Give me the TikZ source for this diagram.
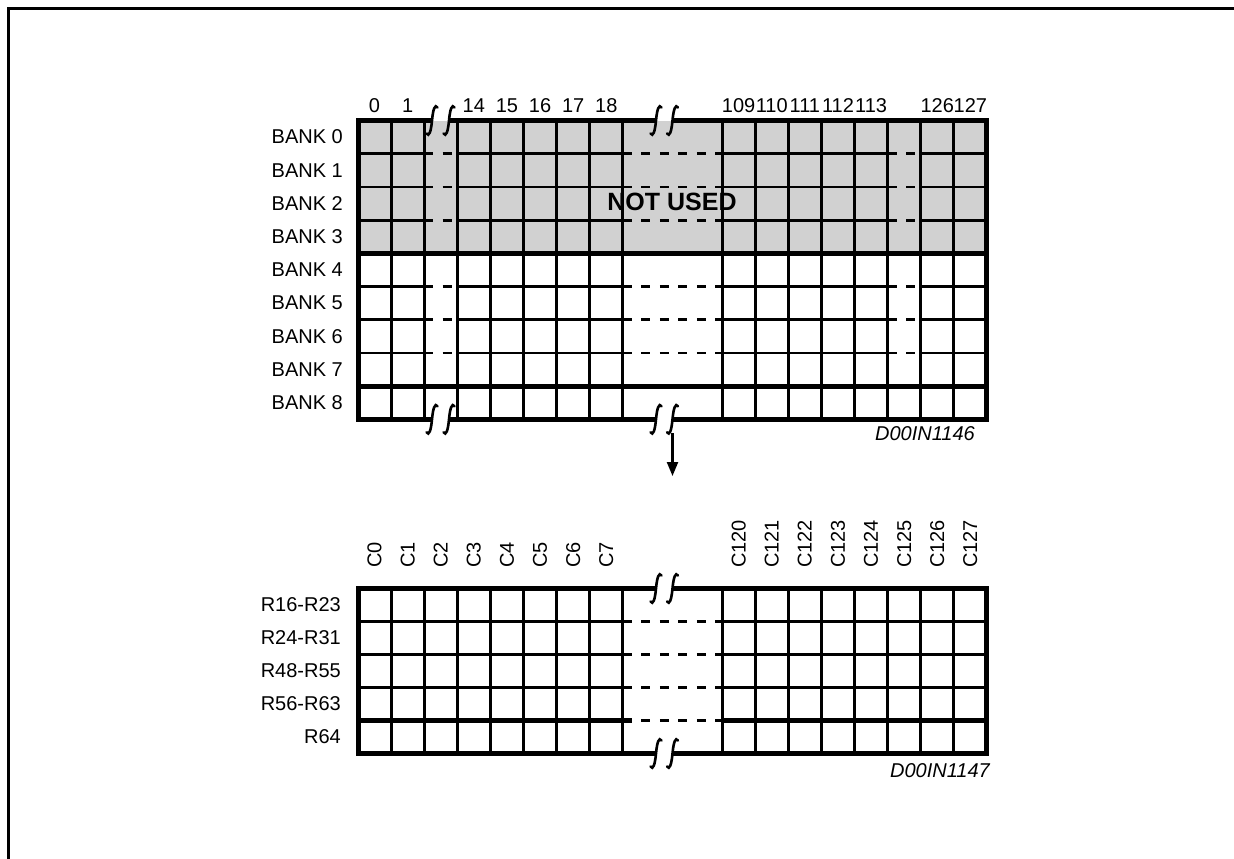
\documentclass[tikz,border=0pt]{standalone}
\usepackage{fontspec}
\setmainfont{Liberation Sans}
\usetikzlibrary{arrows.meta}
\tikzset{
  gl/.style={line width=2.8pt},
  thk/.style={line width=4.8pt},
  bord/.style={line width=5pt, line join=miter},
  dl/.style={line width=2.8pt, dash pattern=on 9pt off 9.5pt},
  lbl/.style={font=\fontsize{20}{24}\selectfont, inner sep=0pt},
  idl/.style={font=\fontsize{20}{24}\selectfont\itshape, inner sep=0pt, anchor=base east},
  shade/.style={fill=black!18},
  brk/.pic={\draw[line width=2.6pt, line cap=round] (-5.5,13) .. controls (-3,17) and (-1,11) .. (0,0) .. controls (1,-11) and (3,-17) .. (5.5,-13);}
}
\begin{document}
\begin{tikzpicture}[x=1pt,y=-1pt]
\useasboundingbox (0,0) rectangle (1234,859);
% frame
\draw[line width=2.6pt] (8.3,859) -- (8.3,8.3) -- (1234,8.3);

% ---------------- top grid ----------------
\def\L{358}\def\W{33.1}\def\T{120.5}\def\H{33.2}
\fill[shade] (\L,\T) rectangle ({\L+19*\W},{\T+4*\H});
% verticals
\foreach \u in {1,...,8,11,12,...,18}
  \draw[gl] ({\L+\u*\W},\T) -- ({\L+\u*\W},{\T+9*\H});
% thin row lines with dashed gaps
\foreach \r in {1,2,3,5,6,7}{
  \pgfmathsetmacro{\yy}{\T+\r*\H}
  \draw[gl] (\L,\yy) -- ({\L+2*\W},\yy);
  \draw[dl] ({\L+2*\W},\yy) -- ({\L+3*\W},\yy);
  \draw[gl] ({\L+3*\W},\yy) -- ({\L+8*\W},\yy);
  \draw[dl] ({\L+8*\W},\yy) -- ({\L+11*\W},\yy);
  \draw[gl] ({\L+11*\W},\yy) -- ({\L+16*\W},\yy);
  \draw[dl] ({\L+16*\W},\yy) -- ({\L+17*\W},\yy);
  \draw[gl] ({\L+17*\W},\yy) -- ({\L+19*\W},\yy);
}
% thick row lines
\draw[thk] (\L,{\T+4*\H}) -- ({\L+19*\W},{\T+4*\H});
\draw[thk] (\L,{\T+8*\H}) -- ({\L+19*\W},{\T+8*\H});
% border with breaks
\draw[bord] (432,\T) -- (\L,\T) -- (\L,{\T+9*\H}) -- (432,{\T+9*\H});
\draw[bord] (449,\T) -- (656,\T);
\draw[bord] (449,{\T+9*\H}) -- (656,{\T+9*\H});
\draw[bord] (672.5,\T) -- ({\L+19*\W},\T) -- ({\L+19*\W},{\T+9*\H}) -- (672.5,{\T+9*\H});
% break marks
\foreach \bx in {432,449,656,672.5}{
  \pic at (\bx,\T) {brk};
  \pic at (\bx,{\T+9*\H}) {brk};
}
% column numbers
\foreach \u/\t in {0/0,1/1,3/14,4/15,5/16,6/17,7/18,11/109,12/110,13/111,14/112,15/113,17/126,18/127}
  \node[lbl, anchor=base] (tn\u) at ({\L+(\u+0.5)*\W},112) {\t};
% bank labels
\foreach \r in {0,...,8}
  \node[lbl, anchor=east] (bank\r) at (343,{\T+(\r+0.5)*\H}) {BANK \r};
\node[font=\fontsize{25}{28}\selectfont\bfseries, inner sep=0pt] (notused) at (672,202) {NOT USED};
\node[idl] (id1) at (975,440) {D00IN1146};

% arrow
\coordinate (arrS) at (672.5,433);
\coordinate (arrE) at (672.5,476);
\draw[line width=2.2pt, -{Triangle[width=11pt,length=14pt]}] (arrS) -- (arrE);

% ---------------- bottom grid ----------------
\def\TB{588.5}\def\HB{33}
\foreach \u in {1,...,8,11,12,...,18}
  \draw[gl] ({\L+\u*\W},\TB) -- ({\L+\u*\W},{\TB+5*\HB});
\foreach \r in {1,2,3}{
  \pgfmathsetmacro{\yy}{\TB+\r*\HB}
  \draw[gl] (\L,\yy) -- ({\L+8*\W},\yy);
  \draw[dl] ({\L+8*\W},\yy) -- ({\L+11*\W},\yy);
  \draw[gl] ({\L+11*\W},\yy) -- ({\L+19*\W},\yy);
}
\pgfmathsetmacro{\yq}{\TB+4*\HB}
\draw[thk] (\L,\yq) -- ({\L+8*\W+9},\yq);
\draw[dl] ({\L+8*\W},\yq) -- ({\L+11*\W},\yq);
\draw[thk] ({\L+11*\W},\yq) -- ({\L+19*\W},\yq);
\draw[bord] (656,\TB) -- (\L,\TB) -- (\L,{\TB+5*\HB}) -- (656,{\TB+5*\HB});
\draw[bord] (672.5,\TB) -- ({\L+19*\W},\TB) -- ({\L+19*\W},{\TB+5*\HB}) -- (672.5,{\TB+5*\HB});
\foreach \bx in {656,672.5}{
  \pic at (\bx,\TB) {brk};
  \pic at (\bx,{\TB+5*\HB}) {brk};
}
\foreach \u/\t in {0/C0,1/C1,2/C2,3/C3,4/C4,5/C5,6/C6,7/C7,11/C120,12/C121,13/C122,14/C123,15/C124,16/C125,17/C126,18/C127}
  \node[lbl, rotate=90, anchor=west] (cn\u) at ({\L+(\u+0.5)*\W},568) {\t};
\foreach \r/\t in {0/R16-R23,1/R24-R31,2/R48-R55,3/R56-R63,4/R64}
  \node[lbl, anchor=east] (row\r) at (341,{\TB+(\r+0.5)*\HB}) {\t};
\node[idl] (id2) at (990,777) {D00IN1147};
\end{tikzpicture}
\end{document}
